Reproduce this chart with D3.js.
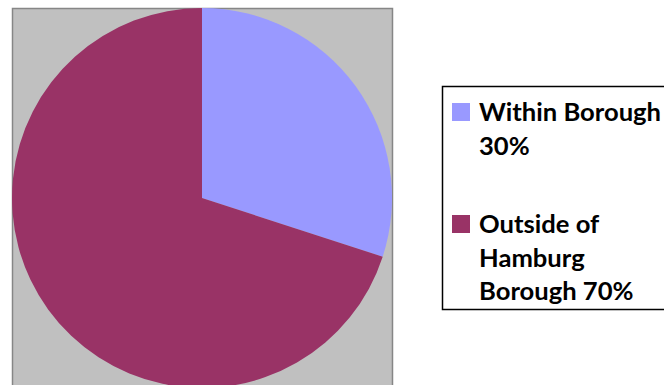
<!DOCTYPE html>
<html>
<head>
<meta charset="utf-8">
<script src="https://cdn.jsdelivr.net/npm/d3@7"></script>
<style>
  body { margin: 0; background: #fff; }
  svg { display: block; }
</style>
</head>
<body>
<svg id="chart" width="664" height="385"></svg>
<script>
// data
var categories = ["Within Borough", "Outside of Hamburg Borough"];
var values = [30, 70];
var legendLines = [["Within Borough", "30%"], ["Outside of", "Hamburg", "Borough 70%"]];
var colors = ["#9999FF", "#993366"];

var svg = d3.select("#chart");

// plot area
svg.append("rect")
    .attr("x", 12.5)
    .attr("y", 8.5)
    .attr("width", 380)
    .attr("height", 400)
    .attr("fill", "#C0C0C0")
    .attr("stroke", "#868686")
    .attr("stroke-width", 1.5);

var cx = 202, cy = 198, r = 190;

var z = d3.scaleOrdinal().domain(categories).range(colors);

var pie = d3.pie()
    .sort(null)
    .value(function(d) { return d.value; });

var arc = d3.arc().innerRadius(0).outerRadius(r);

var data = categories.map(function(c, i) { return {name: c, value: values[i]}; });

var g = svg.append("g").attr("transform", "translate(" + cx + "," + cy + ")");

g.selectAll("path")
  .data(pie(data))
  .enter().append("path")
    .attr("d", arc)
    .attr("fill", function(d) { return z(d.data.name); });

// legend
svg.append("rect")
    .attr("x", 442.5)
    .attr("y", 86.5)
    .attr("width", 240)
    .attr("height", 223)
    .attr("fill", "#fff")
    .attr("stroke", "#000")
    .attr("stroke-width", 1.5);

var lineH = 33.6;
var firstBase = [121, 233];

var legend = svg.selectAll(".legend")
  .data(categories)
  .enter().append("g")
    .attr("class", "legend")
    .attr("transform", function(d, i) { return "translate(452," + firstBase[i] + ")"; });

legend.append("rect")
    .attr("x", 0)
    .attr("y", -18)
    .attr("width", 18)
    .attr("height", 18)
    .attr("fill", z);

legend.append("text")
    .attr("x", 27)
    .attr("y", 0)
    .style("font", "bold 25.6px Lato, 'Open Sans', sans-serif")
    .attr("fill", "#000")
  .selectAll("tspan")
  .data(function(d, i) { return legendLines[i]; })
  .enter().append("tspan")
    .attr("x", 27)
    .attr("dy", function(d, j) { return j ? lineH : 0; })
    .text(function(d) { return d; });
</script>
</body>
</html>
